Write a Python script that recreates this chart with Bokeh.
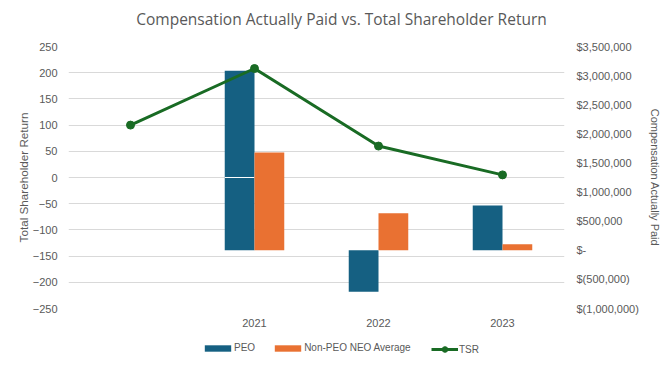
from bokeh.plotting import figure
from bokeh.layouts import column
from bokeh.models import (Range1d, LinearAxis, FixedTicker, CustomJSTickFormatter, Legend,
                          LegendItem, ColumnDataSource, Label)
from bokeh.embed import file_html
from bokeh.resources import INLINE

# ---- data ----
title_text = "Compensation Actually Paid vs. Total Shareholder Return"
categories = ["", "2021", "2022", "2023"]
bar_years = ["2021", "2022", "2023"]
peo_cap = [3084000, -714000, 771000]
non_peo_cap = [1679000, 634000, 103000]
tsr = [100, 208, 60, 5]
tsr_ticks = [-250, -200, -150, -100, -50, 0, 50, 100, 150, 200, 250]
cap_ticks = [-1000000, -500000, 0, 500000, 1000000, 1500000, 2000000, 2500000, 3000000, 3500000]

BLUE = "#156082"
ORANGE = "#E97132"
GREEN = "#196B24"
TXT = "#595959"
GRID = "#D9D9D9"

W = 667
BL, BR = 68, 103

tsr_lo, tsr_hi = tsr_ticks[0], tsr_ticks[-1]
cap_lo, cap_hi = cap_ticks[0], cap_ticks[-1]

xs_all = list(range(len(categories)))
bar_x = [categories.index(y) for y in bar_years]
bar_w = 0.24

def strip(h):
    f = figure(width=W, height=h, output_backend="svg", toolbar_location=None,
               min_border_left=BL, min_border_right=BR, min_border_top=0, min_border_bottom=0,
               x_range=Range1d(0, 1), y_range=Range1d(0, 1))
    f.outline_line_color = None
    f.axis.visible = False
    f.grid.visible = False
    return f

# ---- title strip ----
tf = strip(36)
tf.add_layout(Label(x=273, y=18, x_units="screen", y_units="screen", text=title_text,
                    text_align="center", text_baseline="middle", text_font="Open Sans",
                    text_font_size="15.5px", text_color=TXT))

# ---- main chart ----
p = figure(width=W, height=304, output_backend="svg", toolbar_location=None,
           x_range=Range1d(-0.5, len(categories) - 0.5), y_range=Range1d(tsr_lo, tsr_hi),
           min_border_left=BL, min_border_right=BR, min_border_top=10, min_border_bottom=32)
p.outline_line_color = None
p.background_fill_color = "white"
p.border_fill_color = "white"
p.extra_y_ranges = {"cap": Range1d(cap_lo, cap_hi)}

p.xgrid.visible = False
p.ygrid.ticker = FixedTicker(ticks=tsr_ticks)
p.ygrid.grid_line_color = GRID

src_peo = ColumnDataSource(dict(x=[x - bar_w / 2 for x in bar_x], top=peo_cap))
src_non = ColumnDataSource(dict(x=[x + bar_w / 2 for x in bar_x], top=non_peo_cap))
p.vbar(x="x", top="top", bottom=0, width=bar_w, source=src_peo, y_range_name="cap",
       fill_color=BLUE, line_color=None)

# horizontal category axis line (white, at TSR = 0) shows across PEO bars that span it
zero_cap = cap_lo + (0 - tsr_lo) / (tsr_hi - tsr_lo) * (cap_hi - cap_lo)
cross = [(x - bar_w / 2, t) for x, t in zip(bar_x, peo_cap) if min(0, t) < zero_cap < max(0, t)]
if cross:
    p.segment(x0=[c[0] - bar_w / 2 for c in cross], x1=[c[0] + bar_w / 2 for c in cross],
              y0=[zero_cap] * len(cross), y1=[zero_cap] * len(cross),
              y_range_name="cap", line_color="white", line_width=1)

p.vbar(x="x", top="top", bottom=0, width=bar_w, source=src_non, y_range_name="cap",
       fill_color=ORANGE, line_color=None)
p.line(xs_all, tsr, line_color=GREEN, line_width=3)
p.scatter(xs_all, tsr, size=8, fill_color=GREEN, line_color=GREEN)

def style_axis(ax, tick_size="11px", label_size="11px"):
    ax.axis_line_color = None
    ax.major_tick_line_color = None
    ax.minor_tick_line_color = None
    ax.major_tick_out = 0
    ax.major_tick_in = 0
    ax.minor_tick_out = 0
    ax.minor_tick_in = 0
    ax.major_label_text_font = "Liberation Sans"
    ax.major_label_text_font_size = tick_size
    ax.major_label_text_color = TXT
    ax.axis_label_text_font = "Liberation Sans"
    ax.axis_label_text_font_size = label_size
    ax.axis_label_text_font_style = "normal"
    ax.axis_label_text_color = TXT

xa = p.xaxis[0]
xa.ticker = FixedTicker(ticks=xs_all)
xa.major_label_overrides = {i: c for i, c in enumerate(categories)}
style_axis(xa)
xa.major_label_standoff = 10

ya = p.yaxis[0]
ya.ticker = FixedTicker(ticks=tsr_ticks)
ya.axis_label = "Total Shareholder Return"
style_axis(ya, label_size="11.7px")
ya.major_label_standoff = 11
ya.axis_label_standoff = 0

ra = LinearAxis(y_range_name="cap", ticker=FixedTicker(ticks=cap_ticks),
                axis_label="Compensation Actually Paid")
ra.formatter = CustomJSTickFormatter(code="""
    if (tick == 0) return '$-';
    const s = Math.abs(tick).toLocaleString('en-US');
    return tick < 0 ? '$(' + s + ')' : '$' + s;
""")
style_axis(ra)
ra.major_label_standoff = 12
ra.axis_label_standoff = 7
p.add_layout(ra, "right")

# ---- legend strip (legend glyphs only; proxies draw nothing) ----
lg = strip(28)
l_peo = lg.vbar(x=[0.5], top=[2], bottom=2, width=0, fill_color=BLUE, line_color=None)
l_non = lg.vbar(x=[0.5], top=[2], bottom=2, width=0, fill_color=ORANGE, line_color=None)
l_line = lg.line(x=[0.5, 0.5], y=[2, 2], line_color=GREEN, line_width=3)
l_pts = lg.scatter(x=[0.5], y=[2], size=0, fill_color=GREEN, line_color=GREEN)

def style_legend(lgd):
    lgd.border_line_color = None
    lgd.background_fill_alpha = 0
    lgd.label_text_font = "Liberation Sans"
    lgd.label_text_font_size = "10px"
    lgd.label_text_color = TXT
    lgd.padding = 0
    lgd.margin = 0

legend_bars = Legend(items=[
    LegendItem(label="PEO", renderers=[l_peo]),
    LegendItem(label="Non-PEO NEO Average", renderers=[l_non]),
], orientation="horizontal", location=(133, 15))
style_legend(legend_bars)
legend_bars.label_height = 8
legend_bars.glyph_width = 33
legend_bars.glyph_height = 8
legend_bars.label_standoff = 0
legend_bars.spacing = 16
lg.add_layout(legend_bars, "center")

legend_line = Legend(items=[
    LegendItem(label="TSR", renderers=[l_line, l_pts]),
], orientation="horizontal", location=(363, 12))
style_legend(legend_line)
legend_line.label_height = 14
legend_line.glyph_width = 27
legend_line.glyph_height = 14
legend_line.label_standoff = 1
lg.add_layout(legend_line, "center")

layout = column(tf, p, lg, spacing=0)
html = file_html(layout, INLINE)
open("out.html", "w").write(html)
